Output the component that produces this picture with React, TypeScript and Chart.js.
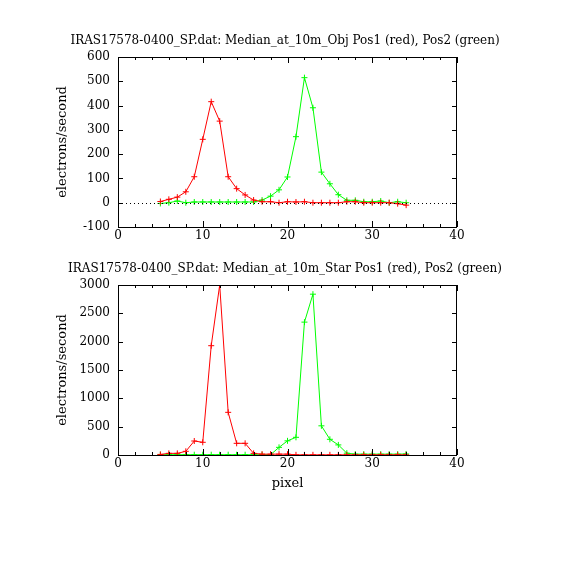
import React, { useEffect, useRef } from "react"
import Chart from "chart.js/auto"

// pixel columns sampled in both panels
const pixels = [5, 6, 7, 8, 9, 10, 11, 12, 13, 14, 15, 16, 17, 18, 19, 20, 21, 22, 23, 24, 25, 26, 27, 28, 29, 30, 31, 32, 33, 34]

// Median_at_10m_Obj
const objPos1 = [5, 14, 23, 45, 107, 261, 416, 336, 107, 58, 32, 11, 4, 4, 0, 4, 3, 4, 0, 0, 0, 0, 4, 4, 0, 0, 0, 0, -4, -10]
const objPos2 = [-3, 0, 7, 0, 3, 3, 3, 3, 3, 3, 3, 3, 11, 27, 53, 106, 272, 515, 391, 126, 78, 33, 10, 10, 4, 4, 7, 0, 4, 0]

// Median_at_10m_Star
const starPos1 = [10, 29, 29, 65, 247, 224, 1929, 3000, 753, 206, 206, 29, 15, 15, 15, 15, 3, 3, 3, 3, 3, 3, 3, 3, 3, 3, 3, 3, 3, 3]
const starPos2 = [5, 5, 5, 5, 5, 5, 5, 5, 5, 5, 5, 5, 5, 5, 135, 250, 312, 2345, 2838, 515, 277, 178, 32, 15, 15, 15, 15, 15, 15, 18]

const xTicks = [0, 10, 20, 30, 40]
const objYTicks = [-100, 0, 100, 200, 300, 400, 500, 600]
const starYTicks = [0, 500, 1000, 1500, 2000, 2500, 3000]

const objTitle = "IRAS17578-0400_SP.dat: Median_at_10m_Obj Pos1 (red), Pos2 (green)"
const starTitle = "IRAS17578-0400_SP.dat: Median_at_10m_Star Pos1 (red), Pos2 (green)"

const FONT = "DejaVu Serif"

// frame with inward ticks, dotted zero line, panel title
const framePlugin = {
  id: "frame",
  afterDraw(chart: any, _args: any, opts: any) {
    const { ctx, chartArea: a, scales } = chart
    const xs = scales.x
    const ys = scales.y
    ctx.save()
    ctx.strokeStyle = "#000"
    ctx.lineWidth = 1
    ctx.strokeRect(a.left + 0.5, a.top + 0.5, a.right - a.left - 1, a.bottom - a.top)

    ctx.beginPath()
    for (let v = xs.min; v <= xs.max; v += 2) {
      const px = Math.round(xs.getPixelForValue(v)) + 0.5
      const len = v % 10 === 0 ? 6 : 3
      ctx.moveTo(px, a.bottom)
      ctx.lineTo(px, a.bottom - len)
      ctx.moveTo(px, a.top)
      ctx.lineTo(px, a.top + len)
    }
    ys.ticks.forEach((t: any) => {
      const py = Math.round(ys.getPixelForValue(t.value)) + 0.5
      ctx.moveTo(a.left, py)
      ctx.lineTo(a.left + 5, py)
      ctx.moveTo(a.right, py)
      ctx.lineTo(a.right - 5, py)
    })
    ctx.stroke()

    if (opts.zero) {
      const py = Math.round(ys.getPixelForValue(0)) + 0.5
      ctx.setLineDash([1, 3])
      ctx.beginPath()
      ctx.moveTo(a.left, py)
      ctx.lineTo(a.right, py)
      ctx.stroke()
      ctx.setLineDash([])
    }

    ctx.fillStyle = "#000"
    ctx.font = `12px "${FONT}"`
    ctx.textAlign = "center"
    ctx.textBaseline = "middle"
    ctx.fillText(opts.title, 285, opts.titleY)
    ctx.restore()
  },
}

interface PanelProps {
  title: string
  pos1: number[]
  pos2: number[]
  yTicks: number[]
  top: number
  areaTop: number
  xHeight: number
  xTitle?: string
  zero?: boolean
}

function Panel(props: PanelProps) {
  const ref = useRef<HTMLCanvasElement>(null)
  const { title, pos1, pos2, yTicks, top, areaTop, xHeight, xTitle, zero } = props

  useEffect(() => {
    let chart: Chart | null = null
    if (ref.current) {
      const tickFont = { family: FONT, size: 12 }
      const titleFont = { family: FONT, size: 13 }
      chart = new Chart(ref.current, {
        type: "line",
        data: {
          datasets: [
            {
              data: pixels.map((p, i) => ({ x: p, y: pos1[i] })),
              borderColor: "#ff0000",
              backgroundColor: "#ff0000",
              borderWidth: 1,
              pointStyle: "cross",
              pointRadius: 3,
              pointBorderWidth: 1,
            },
            {
              data: pixels.map((p, i) => ({ x: p, y: pos2[i] })),
              borderColor: "#00ff00",
              backgroundColor: "#00ff00",
              borderWidth: 1,
              pointStyle: "cross",
              pointRadius: 3,
              pointBorderWidth: 1,
            },
          ],
        },
        options: {
          animation: false,
          responsive: false,
          layout: { padding: { top: areaTop, right: 113, left: 0, bottom: 0 } },
          plugins: {
            legend: { display: false },
            tooltip: { enabled: false },
            frame: { title, titleY: areaTop - 16, zero: !!zero },
          } as any,
          scales: {
            x: {
              type: "linear",
              min: xTicks[0],
              max: xTicks[xTicks.length - 1],
              afterBuildTicks: (s: any) => {
                s.ticks = xTicks.map((v) => ({ value: v }))
              },
              afterFit: (s: any) => {
                s.height = xHeight
              },
              grid: { display: false, drawTicks: false },
              border: { display: false },
              ticks: { font: tickFont, color: "#000", padding: 2, maxRotation: 0, callback: (v: any) => String(v) },
              title: {
                display: !!xTitle,
                text: xTitle || "",
                font: titleFont,
                color: "#000",
                padding: { top: 0, bottom: 9 },
              },
            },
            y: {
              type: "linear",
              min: yTicks[0],
              max: yTicks[yTicks.length - 1],
              afterBuildTicks: (s: any) => {
                s.ticks = yTicks.map((v) => ({ value: v }))
              },
              afterFit: (s: any) => {
                s.width = 118
              },
              grid: { display: false, drawTicks: false },
              border: { display: false },
              ticks: { font: tickFont, color: "#000", padding: 8, callback: (v: any) => String(v) },
              title: {
                display: true,
                text: "electrons/second",
                font: titleFont,
                color: "#000",
                padding: { top: 55, bottom: 0 },
              },
            },
          },
        },
        plugins: [framePlugin],
      })
    }
    return () => {
      chart?.destroy()
    }
  }, [title, pos1, pos2, yTicks, areaTop, xHeight, xTitle, zero])

  return (
    <canvas
      ref={ref}
      width={570}
      height={250}
      style={{ position: "absolute", left: 0, top: top, width: 570, height: 250 }}
    />
  )
}

export default function App() {
  return (
    <div style={{ position: "absolute", left: 0, top: 0, width: 570, height: 570, background: "#fff" }}>
      <Panel title={objTitle} pos1={objPos1} pos2={objPos2} yTicks={objYTicks} top={0} areaTop={57} xHeight={23} zero />
      <Panel
        title={starTitle}
        pos1={starPos1}
        pos2={starPos2}
        yTicks={starYTicks}
        top={250}
        areaTop={35}
        xHeight={45}
        xTitle="pixel"
      />
    </div>
  )
}
